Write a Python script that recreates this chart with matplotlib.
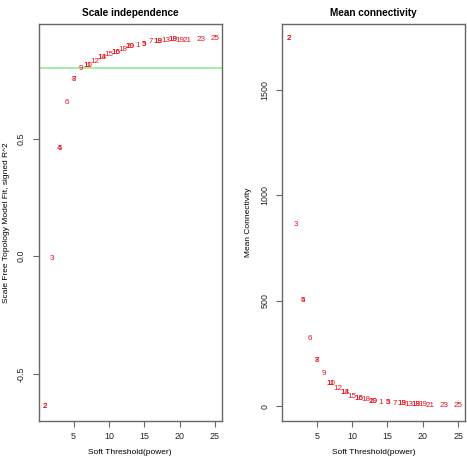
import matplotlib
matplotlib.use("Agg")
import matplotlib.pyplot as plt

plt.rcParams["font.family"] = ["Liberation Sans", "DejaVu Sans"]

# Data
powers = [1, 2, 3, 4, 5, 6, 7, 8, 9, 10, 11, 12, 13, 14, 15, 16, 17, 18, 19, 20, 21, 23, 25]
labels = ["2", "3", "5", "6", "8", "9", "10", "12", "14", "15", "16", "18", "20",
          "1", "5", "7", "19", "13", "19", "19", "21", "23", "25"]
overlap_labels = ["2", "", "4", "", "7", "", "11", "", "13", "", "16", "", "19",
                  "", "3", "", "18", "", "18", "", "", "", ""]
sft_r2 = [-0.637, -0.008, 0.456, 0.654, 0.751, 0.797, 0.811, 0.826, 0.843, 0.857,
          0.867, 0.878, 0.892, 0.896, 0.902, 0.911, 0.915, 0.918, 0.922, 0.919,
          0.916, 0.923, 0.925]
mean_k = [1744, 863, 502, 319, 216, 153, 109, 84, 62, 47, 38, 30, 22, 19, 17.5,
          14, 11, 8, 6.6, 5, 3, 2, 1]
r2_cut = 0.80

W, H = 467, 461
fig = plt.figure(figsize=(W / 100, H / 100), dpi=100)

frame_col = "#666666"
tick_fs = 6.4
lab_fs = 5.8
axlab_fs = 6.0
title_fs = 7.2
red = "#e8101c"

def style(ax, axw, ylab_px):
    for s in ax.spines.values():
        s.set_color(frame_col)
        s.set_linewidth(1.0)
    ax.tick_params(axis="both", direction="out", length=4, width=0.8,
                   color=frame_col, labelsize=tick_fs, labelcolor="#222222")
    ax.tick_params(axis="x", pad=4)
    ax.tick_params(axis="y", pad=5)
    for t in ax.get_yticklabels():
        t.set_rotation(90)
        t.set_va("center")
    ax.xaxis.set_label_coords(0.5, (420.7 - 449.0) / 396.7)
    ax.yaxis.set_label_coords(ylab_px / axw, 0.5)

def pad(lo, hi):
    r = hi - lo
    return lo - 0.04 * r, hi + 0.04 * r

# Left panel
ax1 = fig.add_axes([38.5 / W, 40.3 / H, 183.2 / W, 396.7 / H])
ax1.set_xlim(*pad(min(powers), max(powers)))
ax1.set_ylim(*pad(min(sft_r2), max(sft_r2)))
ax1.axhline(r2_cut, color="#90ee90", lw=1.2, zorder=1)
for x, y, l, l2 in zip(powers, sft_r2, labels, overlap_labels):
    ax1.text(x, y, l, color=red, fontsize=lab_fs, ha="center", va="center", zorder=3)
    if l2:
        ax1.text(x, y, l2, color=red, fontsize=lab_fs, ha="center", va="center", zorder=3)
ax1.set_xticks([5, 10, 15, 20, 25])
ax1.set_yticks([-0.5, 0.0, 0.5])
ax1.set_yticklabels(["-0.5", "0.0", "0.5"])
ax1.set_xlabel("Soft Threshold(power)", fontsize=axlab_fs)
ax1.set_ylabel("Scale Free Topology Model Fit, signed R^2", fontsize=axlab_fs)
ax1.set_title("Scale independence", fontsize=title_fs, fontweight="bold", pad=6)
style(ax1, 183.2, -28.5)

# Right panel
ax2 = fig.add_axes([281.7 / W, 40.3 / H, 183.3 / W, 396.7 / H])
ax2.set_xlim(*pad(min(powers), max(powers)))
ax2.set_ylim(*pad(0, max(mean_k)))
for x, y, l, l2 in zip(powers, mean_k, labels, overlap_labels):
    ax2.text(x, y, l, color=red, fontsize=lab_fs, ha="center", va="center", zorder=3)
    if l2:
        ax2.text(x, y, l2, color=red, fontsize=lab_fs, ha="center", va="center", zorder=3)
ax2.set_xticks([5, 10, 15, 20, 25])
ax2.set_yticks([0, 500, 1000, 1500])
ax2.set_xlabel("Soft Threshold(power)", fontsize=axlab_fs)
ax2.set_ylabel("Mean Connectivity", fontsize=axlab_fs)
ax2.set_title("Mean connectivity", fontsize=title_fs, fontweight="bold", pad=6)
style(ax2, 183.3, -29.5)

fig.savefig("out.png", dpi=100)
